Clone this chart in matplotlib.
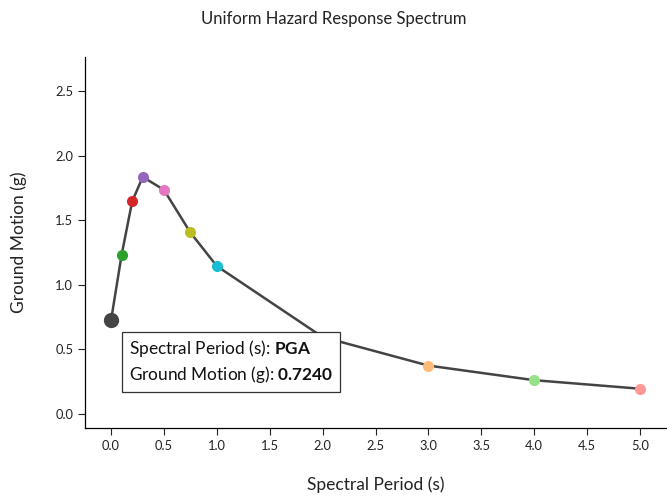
import matplotlib
matplotlib.use("Agg")
from matplotlib import pyplot as plt

# spectral periods (PGA plotted at 0.0)
periods = [0.0, 0.1, 0.2, 0.3, 0.5, 0.75, 1.0, 2.0, 3.0, 4.0, 5.0]
period_labels = ["PGA", "0.1", "0.2", "0.3", "0.5", "0.75", "1.0", "2.0", "3.0", "4.0", "5.0"]
motion = [0.724, 1.23, 1.645, 1.835, 1.735, 1.405, 1.145, 0.596, 0.375, 0.262, 0.196]
colors = ["#444444", "#2ca02c", "#d62728", "#9467bd", "#e377c2", "#bcbd22",
          "#17becf", "#aec7e8", "#ffbb78", "#98df8a", "#ff9896"]
xticks = [0.0, 0.5, 1.0, 1.5, 2.0, 2.5, 3.0, 3.5, 4.0, 4.5, 5.0]
yticks = [0.0, 0.5, 1.0, 1.5, 2.0, 2.5]
hover = 0  # index of highlighted point

plt.rcParams['font.family'] = ['Lato', 'DejaVu Sans']
plt.rcParams['mathtext.fontset'] = 'custom'
plt.rcParams['mathtext.rm'] = 'Lato'
plt.rcParams['mathtext.bf'] = 'Lato:bold'

fig = plt.figure(figsize=(6.67, 5.0), dpi=100)
ax = fig.add_axes([0.1274, 0.144, 0.8726, 0.742])

ax.plot(periods, motion, color="#444444", lw=1.8, zorder=2)
for i, (p, m) in enumerate(zip(periods, motion)):
    size = 11 if i == hover else 8
    ax.plot(p, m, 'o', ms=size, color=colors[i], mec='none', zorder=3)

ax.set_xlim(-0.246, 5.255)
ax.set_ylim(-0.108, 2.763)
ax.set_xticks(xticks)
ax.set_yticks(yticks)
ax.set_xticklabels(["%.1f" % t for t in xticks])
ax.set_yticklabels(["%.1f" % t for t in yticks])
ax.tick_params(labelsize=9.3, length=5, width=0.8, color="#222222", labelcolor="#222222")
for s in ["top", "right"]:
    ax.spines[s].set_visible(False)
for s in ["left", "bottom"]:
    ax.spines[s].set_linewidth(0.9)

ax.set_xlabel("Spectral Period (s)", fontsize=12.5, labelpad=18, color="#222222")
ax.set_ylabel("Ground Motion (g)", fontsize=12.5, labelpad=20, color="#222222")
fig.suptitle("Uniform Hazard Response Spectrum", fontsize=12, y=0.978, color="#222222")

# tooltip
tip = ("Spectral Period (s): $\\bf{%s}$\nGround Motion (g): $\\bf{%.4f}$"
       % (period_labels[hover], motion[hover]))
ax.annotate(tip, xy=(periods[hover], motion[hover]), xytext=(18, -18),
            textcoords="offset pixels", ha="left", va="top", fontsize=12.4,
            color="#111111", linespacing=1.3, zorder=5,
            bbox=dict(boxstyle="square,pad=0.4", fc="white", ec="#333333", lw=0.9))

fig.savefig("out.png", dpi=100)
